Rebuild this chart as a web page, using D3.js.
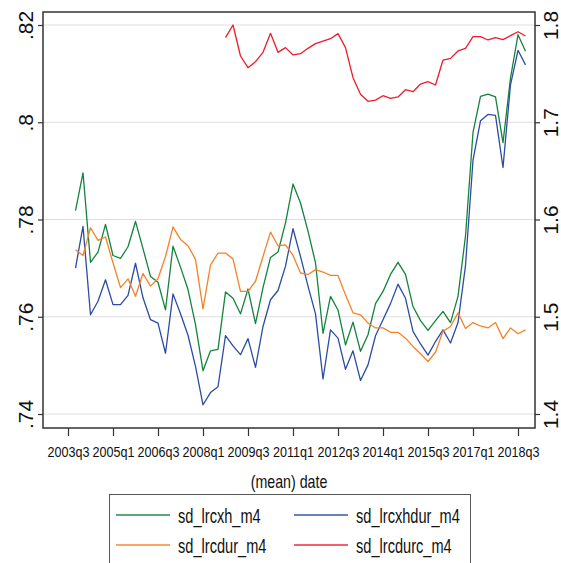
<!DOCTYPE html>
<html lang="en">
  <head>
    <meta charset="UTF-8" />
    <title>sd_lrc m4 by date</title>
    <script src="https://cdnjs.cloudflare.com/ajax/libs/d3/7.8.5/d3.min.js"></script>
    <style>
      body {
        margin: 0;
        background: #fff;
        font-family: "Liberation Sans", Arial, sans-serif;
      }
      .grid line {
        stroke: #dedede;
        stroke-width: 1px;
      }
      .series {
        fill: none;
        stroke-width: 1.3px;
        stroke-linejoin: round;
      }
    </style>
  </head>
  <body>
    <div id="chart"></div>

    <script>
      // quarterly observations, 2003q4 .. 2018q4
      const firstQuarter = "2003q4";
      const nQuarters = 61;

      const sdLrcxh = [
        0.7818, 0.7896, 0.7712, 0.7733, 0.779, 0.7726, 0.772, 0.7744, 0.7796, 0.774,
        0.7683, 0.7671, 0.7614, 0.7745, 0.7702, 0.7656, 0.7584, 0.7489, 0.753, 0.7533,
        0.7651, 0.7638, 0.7606, 0.7657, 0.7586, 0.766, 0.7722, 0.7733, 0.7793, 0.7873,
        0.7834, 0.7776, 0.7711, 0.7566, 0.7642, 0.7614, 0.7542, 0.7589, 0.7529, 0.7563,
        0.7627, 0.7652, 0.7687, 0.7712, 0.7687, 0.7621, 0.7592, 0.7572, 0.7592, 0.7611,
        0.7588, 0.7642, 0.7766, 0.7979, 0.8053, 0.8058, 0.8052, 0.7958, 0.8091, 0.818,
        0.8146,
      ];
      const sdLrcxhdur = [
        0.77, 0.7786, 0.7604, 0.7632, 0.7676, 0.7625, 0.7625, 0.7644, 0.771, 0.7639,
        0.7594, 0.7587, 0.7525, 0.7647, 0.7606, 0.7562, 0.7498, 0.7419, 0.7444, 0.7456,
        0.7561, 0.754, 0.7522, 0.7555, 0.7496, 0.758, 0.7635, 0.7654, 0.7704, 0.7781,
        0.7724, 0.7663, 0.7606, 0.7472, 0.7573, 0.7556, 0.7492, 0.753, 0.7469, 0.7501,
        0.7561, 0.7594, 0.7627, 0.7667, 0.7638, 0.757, 0.7544, 0.7521, 0.7549, 0.7573,
        0.7546, 0.7588, 0.7705, 0.7922, 0.8003, 0.8016, 0.8014, 0.7907, 0.8077, 0.8148,
        0.8118,
      ];
      const sdLrcdur = [
        0.7738, 0.7726, 0.7783, 0.7757, 0.7764, 0.7711, 0.766, 0.7678, 0.7642, 0.7689,
        0.7663, 0.7678, 0.7724, 0.7785, 0.7759, 0.7746, 0.7718, 0.7616, 0.7706, 0.7731,
        0.7731, 0.7719, 0.7652, 0.7652, 0.7673, 0.7724, 0.7774, 0.7746, 0.7748, 0.7726,
        0.769, 0.7687, 0.7697, 0.7692, 0.7685, 0.7685, 0.7645, 0.7608, 0.7604, 0.7587,
        0.7577, 0.7577, 0.7568, 0.7568, 0.7556, 0.7539, 0.7524, 0.7508, 0.7527, 0.757,
        0.758, 0.7608, 0.7576, 0.7588, 0.7581, 0.7577, 0.7588, 0.7555, 0.7577, 0.7565,
        0.7573,
      ];
      // right axis series, starts in 2008q4
      const sdLrcdurc = [
        null, null, null, null, null, null, null, null, null, null,
        null, null, null, null, null, null, null, null, null, null,
        1.787, 1.8, 1.7681, 1.7561, 1.7623, 1.7719, 1.7914, 1.7719, 1.7767, 1.7692,
        1.7705, 1.776, 1.7808, 1.7835, 1.7859, 1.7911, 1.7767, 1.7458, 1.7287, 1.7215,
        1.7227, 1.7273, 1.7246, 1.726, 1.7335, 1.7314, 1.7393, 1.7417, 1.7383, 1.764,
        1.7657, 1.7733, 1.776, 1.788, 1.788, 1.7846, 1.787, 1.7849, 1.789, 1.7931,
        1.7887,
      ];

      const xTicks = [
        "2003q3", "2005q1", "2006q3", "2008q1", "2009q3", "2011q1",
        "2012q3", "2014q1", "2015q3", "2017q1", "2018q3",
      ];
      const leftTicks = [0.74, 0.76, 0.78, 0.8, 0.82];
      const leftLabels = [".74", ".76", ".78", ".8", ".82"];
      const rightTicks = [1.4, 1.5, 1.6, 1.7, 1.8];
      const rightLabels = ["1.4", "1.5", "1.6", "1.7", "1.8"];

      const seriesNames = ["sd_lrcxh_m4", "sd_lrcxhdur_m4", "sd_lrcdur_m4", "sd_lrcdurc_m4"];
      const seriesColors = ["#13833d", "#2a4ca3", "#f58228", "#ec1c2a"];

      // "2003q4" -> quarter number
      const qNum = (s) => +s.slice(0, 4) * 4 + (+s.slice(5) - 1);
      const q0 = qNum(firstQuarter);
      const dates = d3.range(nQuarters).map((i) => q0 + i);

      const width = 561;
      const height = 563;
      const plot = { left: 43, right: 535, top: 12, bottom: 428 };

      const svg = d3
        .select("#chart")
        .append("svg")
        .attr("width", width)
        .attr("height", height);

      const x = d3
        .scaleLinear()
        .domain([qNum("2003q3"), qNum("2018q3")])
        .range([68, 518]);
      const yL = d3.scaleLinear().domain([0.74, 0.82]).range([414, 25]);
      const yR = d3.scaleLinear().domain([1.4, 1.8]).range([414, 25]);

      // gridlines
      svg
        .append("g")
        .attr("class", "grid")
        .selectAll("line")
        .data(leftTicks)
        .enter()
        .append("line")
        .attr("x1", plot.left)
        .attr("x2", plot.right)
        .attr("y1", (d) => yL(d))
        .attr("y2", (d) => yL(d));

      // series
      const lineL = (vals) =>
        d3
          .line()
          .defined((d, i) => vals[i] != null)
          .x((d, i) => x(dates[i]))
          .y((d, i) => yL(vals[i]))(vals);
      const lineR = (vals) =>
        d3
          .line()
          .defined((d, i) => vals[i] != null)
          .x((d, i) => x(dates[i]))
          .y((d, i) => yR(vals[i]))(vals);

      const paths = [
        lineL(sdLrcxh),
        lineL(sdLrcxhdur),
        lineL(sdLrcdur),
        lineR(sdLrcdurc),
      ];
      svg
        .append("g")
        .selectAll("path")
        .data(paths)
        .enter()
        .append("path")
        .attr("class", "series")
        .attr("stroke", (d, i) => seriesColors[i])
        .attr("d", (d) => d);

      // frame
      svg
        .append("rect")
        .attr("x", plot.left)
        .attr("y", plot.top)
        .attr("width", plot.right - plot.left)
        .attr("height", plot.bottom - plot.top)
        .attr("fill", "none")
        .attr("stroke", "#333")
        .attr("stroke-width", 1.5);

      // bottom axis
      const xAxis = svg
        .append("g")
        .attr("transform", `translate(0,${plot.bottom})`)
        .call(
          d3
            .axisBottom(x)
            .tickValues(xTicks.map(qNum))
            .tickFormat((d, i) => xTicks[i])
            .tickSize(8)
            .tickSizeOuter(0)
        );
      xAxis.select(".domain").remove();
      xAxis.selectAll(".tick line").attr("stroke", "#333").attr("stroke-width", 1.2);
      xAxis
        .selectAll(".tick text")
        .attr("y", 0)
        .attr("dy", 0)
        .attr("transform", "translate(0,29) scale(0.84,1)")
        .attr("fill", "#111")
        .style("font-size", "15px")
        .style("font-family", '"Liberation Sans", Arial, sans-serif');

      // left axis
      const leftAxis = svg
        .append("g")
        .attr("transform", `translate(${plot.left},0)`)
        .call(
          d3
            .axisLeft(yL)
            .tickValues(leftTicks)
            .tickFormat((d, i) => leftLabels[i])
            .tickSize(5)
            .tickSizeOuter(0)
        );
      leftAxis.select(".domain").remove();
      leftAxis.selectAll(".tick line").attr("stroke", "#333").attr("stroke-width", 1.2);
      leftAxis
        .selectAll(".tick text")
        .attr("x", 0)
        .attr("y", -10)
        .attr("dy", 0)
        .attr("text-anchor", "middle")
        .attr("transform", "rotate(-90)")
        .attr("fill", "#111")
        .style("font-size", "21px")
        .style("font-family", '"Liberation Sans", Arial, sans-serif');

      // right axis
      const rightAxis = svg
        .append("g")
        .attr("transform", `translate(${plot.right},0)`)
        .call(
          d3
            .axisRight(yR)
            .tickValues(rightTicks)
            .tickFormat((d, i) => rightLabels[i])
            .tickSize(5)
            .tickSizeOuter(0)
        );
      rightAxis.select(".domain").remove();
      rightAxis.selectAll(".tick line").attr("stroke", "#333").attr("stroke-width", 1.2);
      rightAxis
        .selectAll(".tick text")
        .attr("x", 0)
        .attr("y", 23)
        .attr("dy", 0)
        .attr("text-anchor", "middle")
        .attr("transform", "rotate(-90)")
        .attr("fill", "#111")
        .style("font-size", "21px")
        .style("font-family", '"Liberation Sans", Arial, sans-serif');

      // axis title
      svg
        .append("text")
        .attr("transform", `translate(${(plot.left + plot.right) / 2},488) scale(0.79,1)`)
        .attr("text-anchor", "middle")
        .attr("fill", "#111")
        .style("font-size", "18px")
        .text("(mean) date");

      // legend
      const legend = svg.append("g");
      legend
        .append("rect")
        .attr("x", 109.5)
        .attr("y", 494.5)
        .attr("width", 361)
        .attr("height", 80)
        .attr("fill", "#fff")
        .attr("stroke", "#555")
        .attr("stroke-width", 1);

      const legendPos = [
        { x: 116, y: 515 },
        { x: 294, y: 515 },
        { x: 116, y: 545 },
        { x: 294, y: 545 },
      ];
      const items = legend
        .selectAll("g.item")
        .data(seriesNames)
        .enter()
        .append("g")
        .attr("class", "item")
        .attr("transform", (d, i) => `translate(${legendPos[i].x},${legendPos[i].y})`);
      items
        .append("line")
        .attr("x1", 0)
        .attr("x2", 54)
        .attr("stroke", (d, i) => seriesColors[i])
        .attr("stroke-width", 2)
        .attr("stroke-opacity", 0.7);
      items
        .append("text")
        .attr("transform", "translate(62,8) scale(0.73,1)")
        .attr("fill", "#111")
        .style("font-size", "20px")
        .text((d) => d);
    </script>
  </body>
</html>
